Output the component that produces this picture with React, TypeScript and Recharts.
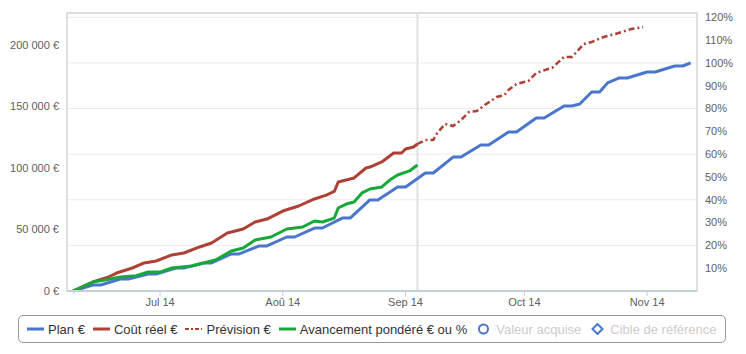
import { LineChart, Line, XAxis, YAxis, CartesianGrid, ReferenceLine, ReferenceArea, Legend } from 'recharts';

const planDates = ['2014-06-09', '2014-06-14', '2014-06-16', '2014-06-21', '2014-06-23', '2014-06-28', '2014-06-30',
  '2014-07-05', '2014-07-07', '2014-07-12', '2014-07-14', '2014-07-19', '2014-07-21', '2014-07-26', '2014-07-28',
  '2014-08-02', '2014-08-04', '2014-08-09', '2014-08-11', '2014-08-16', '2014-08-18', '2014-08-23', '2014-08-25', '2014-08-30',
  '2014-09-01', '2014-09-06', '2014-09-08', '2014-09-13', '2014-09-15', '2014-09-20', '2014-09-22', '2014-09-27', '2014-09-29',
  '2014-10-04', '2014-10-06', '2014-10-11', '2014-10-13', '2014-10-15', '2014-10-18', '2014-10-20', '2014-10-22', '2014-10-25', '2014-10-27',
  '2014-11-01', '2014-11-03', '2014-11-08', '2014-11-10', '2014-11-12'];
const planValues = [0, 4900, 4900, 9800, 9800, 13800, 13800,
  18700, 18700, 22800, 22800, 30100, 30100, 36600, 36600,
  43900, 43900, 51200, 51200, 59300, 59300, 74000, 74000, 84600,
  84600, 95900, 95900, 108900, 108900, 118700, 118700, 129300, 129300,
  140700, 140700, 150400, 150400, 152000, 161800, 161800, 169100, 173200, 173200,
  178000, 178000, 182900, 182900, 185400];

const costDates = ['2014-06-09', '2014-06-14', '2014-06-18', '2014-06-20', '2014-06-24', '2014-06-27', '2014-06-30',
  '2014-07-04', '2014-07-07', '2014-07-11', '2014-07-14', '2014-07-18', '2014-07-22', '2014-07-25', '2014-07-28',
  '2014-08-01', '2014-08-05', '2014-08-09', '2014-08-12', '2014-08-14', '2014-08-15', '2014-08-17', '2014-08-19',
  '2014-08-22', '2014-08-23', '2014-08-26', '2014-08-29', '2014-08-31', '2014-09-01', '2014-09-03', '2014-09-04'];
const costValues = [0, 7300, 11400, 14600, 18700, 22800, 24400,
  29300, 30900, 35800, 39000, 47200, 50400, 56100, 58500,
  65000, 69100, 74800, 78000, 80900, 88600, 90200, 91900,
  100000, 100800, 104900, 112200, 112200, 115400, 117100, 119500];

const forecastDates = ['2014-09-04', '2014-09-06', '2014-09-08', '2014-09-09', '2014-09-11', '2014-09-13', '2014-09-15',
  '2014-09-17', '2014-09-19', '2014-09-21', '2014-09-24', '2014-09-26', '2014-09-27', '2014-09-29',
  '2014-10-02', '2014-10-04', '2014-10-07', '2014-10-08', '2014-10-11', '2014-10-13', '2014-10-16', '2014-10-18',
  '2014-10-21', '2014-10-24', '2014-10-28', '2014-10-31'];
const forecastValues = [119500, 122800, 122800, 128500, 135800, 134100, 139000,
  145500, 146300, 151200, 157700, 159300, 163400, 168300,
  170700, 177200, 180500, 181300, 190200, 190200, 200800, 202400,
  206500, 208900, 213000, 214600];

const progressDates = ['2014-06-09', '2014-06-14', '2014-06-17', '2014-06-21', '2014-06-25', '2014-06-28',
  '2014-07-01', '2014-07-04', '2014-07-09', '2014-07-11', '2014-07-13', '2014-07-15', '2014-07-19', '2014-07-22', '2014-07-25', '2014-07-29',
  '2014-08-02', '2014-08-06', '2014-08-09', '2014-08-11', '2014-08-14', '2014-08-15', '2014-08-17', '2014-08-19',
  '2014-08-21', '2014-08-23', '2014-08-26', '2014-08-28', '2014-08-30', '2014-09-02', '2014-09-04'];
const progressValues = [0, 7300, 8900, 11400, 12500, 15400,
  15400, 18700, 20300, 22000, 23600, 25200, 32500, 35000, 41500, 43900,
  50400, 52000, 56900, 56100, 59300, 67500, 70700, 72400,
  79700, 82900, 84600, 90200, 94300, 97600, 102400];

const todayDate = '2014-09-04';

const monthTicks = ['2014-07-01', '2014-08-01', '2014-09-01', '2014-10-01', '2014-11-01'];
const monthLabels = ['Jul 14', 'Aoû 14', 'Sep 14', 'Oct 14', 'Nov 14'];
const euroTicks = [0, 50000, 100000, 150000, 200000];
const percentTicks = [0.1, 0.2, 0.3, 0.4, 0.5, 0.6, 0.7, 0.8, 0.9, 1.0, 1.1, 1.2];

const BLUE = '#4a76cc';
const RED = '#ad4136';
const GREEN = '#17a83a';

const toDay = (s: string) => (Date.parse(s) - Date.parse('2014-06-01')) / 86400000;
const build = (dates: string[], values: number[]) => dates.map((s, i) => ({ d: toDay(s), v: values[i] }));

const planData = build(planDates, planValues);
const costData = build(costDates, costValues);
const forecastData = build(forecastDates, forecastValues);
const progressData = build(progressDates, progressValues);

// plan as share of its total, carries the % axis (100% = plan budget)
const planTotal = planValues[planValues.length - 1];
const planPercentData = planData.map((p) => ({ d: p.d, v: p.v / planTotal }));

const xDomain = [toDay('2014-06-07') + 0.5, toDay('2014-11-13') + 0.6];
const euroMax = 226000;
const percentMax = euroMax / planTotal;

const formatEuro = (v: number) => String(v).replace(/\B(?=(\d{3})+(?!\d))/g, ' ') + ' €';
const formatMonth = (d: number) => {
  const i = monthTicks.findIndex((s) => toDay(s) === d);
  return i >= 0 ? monthLabels[i] : '';
};

const legendItems = [
  { name: 'Plan €', color: BLUE, kind: 'line', hidden: false },
  { name: 'Coût réel €', color: RED, kind: 'line', hidden: false },
  { name: 'Prévision €', color: RED, kind: 'dash', hidden: false },
  { name: 'Avancement pondéré € ou %', color: GREEN, kind: 'line', hidden: false },
  { name: 'Valeur acquise', color: BLUE, kind: 'circle', hidden: true },
  { name: 'Cible de référence', color: BLUE, kind: 'diamond', hidden: true },
];

const LegendIcon = ({ color, kind }: { color: string; kind: string }) => (
  <svg width={17} height={12} style={{ display: 'block' }}>
    {kind === 'line' && <line x1={0} y1={6} x2={17} y2={6} stroke={color} strokeWidth={3} />}
    {kind === 'dash' && <line x1={0} y1={6} x2={17} y2={6} stroke={color} strokeWidth={2} strokeDasharray="4 2 2 2" />}
    {kind === 'circle' && <circle cx={8.5} cy={6} r={4.5} fill="#fff" stroke={color} strokeWidth={2} />}
    {kind === 'diamond' && <path d="M8.5 1 L13.5 6 L8.5 11 L3.5 6 Z" fill="#fff" stroke={color} strokeWidth={2} />}
  </svg>
);

const LegendBox = () => (
  <div
    style={{
      boxSizing: 'border-box',
      height: 28,
      width: 708,
      border: '1px solid #999',
      borderRadius: 5,
      display: 'flex',
      alignItems: 'center',
      paddingLeft: 8,
      fontSize: 13,
      whiteSpace: 'nowrap',
    }}
  >
    {legendItems.map((item) => (
      <div key={item.name} style={{ display: 'flex', alignItems: 'center', marginRight: 8 }}>
        <LegendIcon color={item.color} kind={item.kind} />
        <span style={{ marginLeft: 4, color: item.hidden ? '#cccccc' : '#333333' }}>{item.name}</span>
      </div>
    ))}
  </div>
);

const tickStyle = { fill: '#606060', fontSize: 11 };

export default function App() {
  return (
    <div style={{ width: 746, height: 354, fontFamily: '"Liberation Sans", Arial, sans-serif' }}>
      <style>{'body { margin: 0; }'}</style>
      <LineChart width={746} height={354} margin={{ top: 13, right: 0, bottom: 11, left: 0 }}>
        <CartesianGrid yAxisId="right" vertical={false} stroke="#ebebeb" />
        <XAxis
          dataKey="d"
          type="number"
          domain={xDomain}
          allowDataOverflow
          ticks={monthTicks.map(toDay)}
          tickFormatter={formatMonth}
          tick={tickStyle}
          tickSize={5}
          axisLine={{ stroke: '#c4cfdc', strokeWidth: 2 }}
          tickLine={{ stroke: '#c4cfdc' }}
          height={24}
        />
        <YAxis
          yAxisId="left"
          type="number"
          domain={[0, euroMax]}
          ticks={euroTicks}
          tickFormatter={formatEuro}
          tick={tickStyle}
          axisLine={false}
          tickLine={false}
          width={67}
        />
        <YAxis
          yAxisId="right"
          orientation="right"
          type="number"
          domain={[0, percentMax]}
          ticks={percentTicks}
          tickFormatter={(v: number) => Math.round(v * 100) + '%'}
          tick={tickStyle}
          axisLine={false}
          tickLine={false}
          width={49}
        />
        <ReferenceArea
          yAxisId="left"
          x1={xDomain[0]}
          x2={xDomain[1]}
          y1={0}
          y2={euroMax}
          fill="none"
          stroke="#d6d6d6"
          strokeWidth={1.5}
        />
        <ReferenceLine yAxisId="left" x={toDay(todayDate)} stroke="#e0e0e0" strokeWidth={2} />
        <Line yAxisId="right" data={planPercentData} dataKey="v" stroke="none" dot={false} legendType="none" isAnimationActive={false} />
        <Line yAxisId="left" data={planData} dataKey="v" name="Plan €" stroke={BLUE} strokeWidth={3} strokeLinejoin="round" dot={false} isAnimationActive={false} />
        <Line yAxisId="left" data={costData} dataKey="v" name="Coût réel €" stroke={RED} strokeWidth={3} strokeLinejoin="round" dot={false} isAnimationActive={false} />
        <Line yAxisId="left" data={forecastData} dataKey="v" name="Prévision €" stroke={RED} strokeWidth={2.5} strokeDasharray="6 3 2 3" dot={false} isAnimationActive={false} />
        <Line yAxisId="left" data={progressData} dataKey="v" name="Avancement pondéré € ou %" stroke={GREEN} strokeWidth={3} strokeLinejoin="round" dot={false} isAnimationActive={false} />
        <Legend verticalAlign="bottom" content={<LegendBox />} wrapperStyle={{ left: 18, width: 708 }} />
      </LineChart>
    </div>
  );
}
